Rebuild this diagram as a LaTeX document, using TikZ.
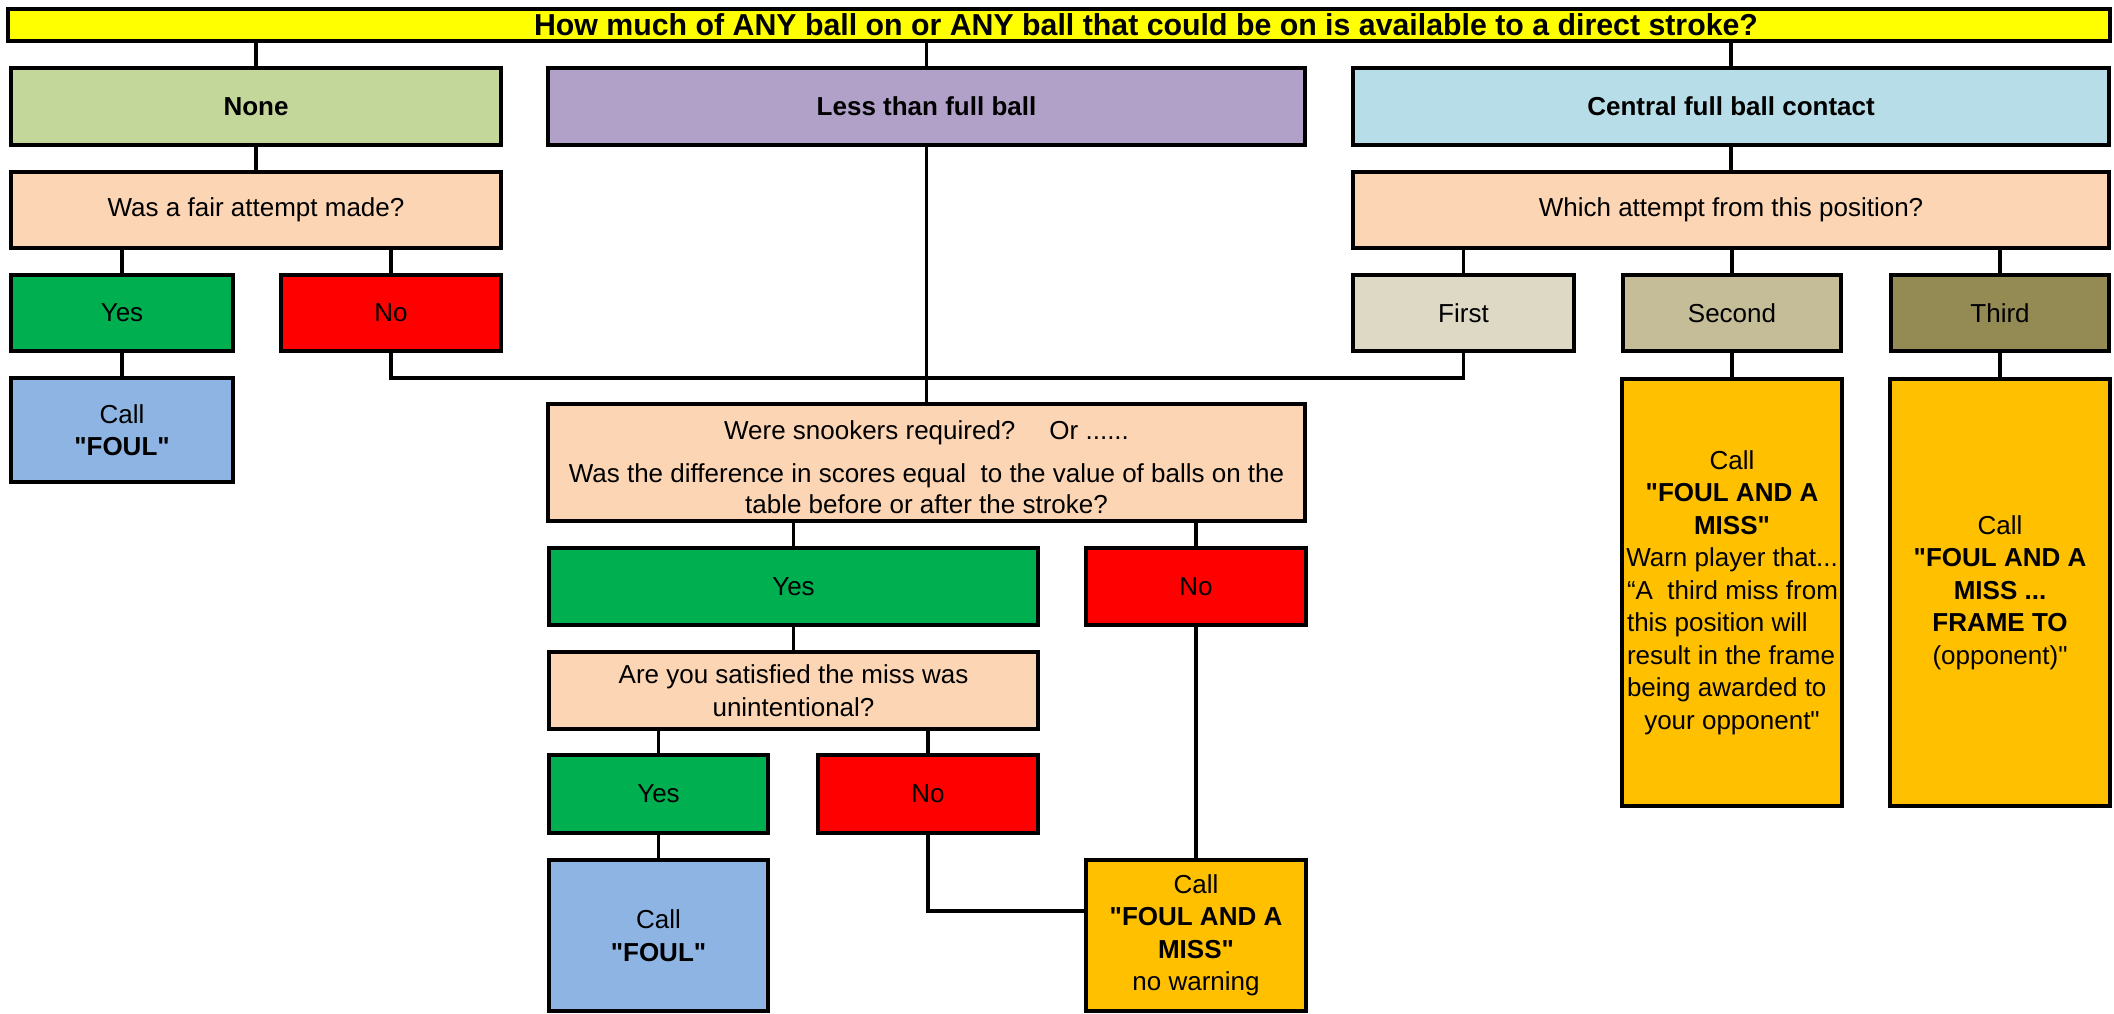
\documentclass[tikz,border=0pt]{standalone}
\usepackage{fontspec}
\setmainfont{Liberation Sans}[Ligatures=TeXOff]
\usetikzlibrary{calc}
\definecolor{cTitle}{HTML}{FFFF00}
\definecolor{cNone}{HTML}{C4D79B}
\definecolor{cLess}{HTML}{B1A0C7}
\definecolor{cCentral}{HTML}{B7DEE8}
\definecolor{cQuest}{HTML}{FCD5B4}
\definecolor{cYes}{HTML}{00B050}
\definecolor{cNo}{HTML}{FF0000}
\definecolor{cFoul}{HTML}{8DB4E2}
\definecolor{cFirst}{HTML}{DDD9C4}
\definecolor{cSecond}{HTML}{C4BD97}
\definecolor{cThird}{HTML}{948A54}
\definecolor{cMiss}{HTML}{FFC000}
\begin{document}
\begin{tikzpicture}[x=1pt,y=-1pt,
  box/.style={draw=black, line width=4pt, rectangle, inner sep=0pt, outer sep=0pt,
    align=center, font=\fontsize{26}{32.5}\selectfont},
  sz/.style 2 args={minimum width=#1pt, minimum height=#2pt},
  conn/.style={draw=black, line width=3.5pt},
  txt/.style={inner sep=0pt, align=center, font=\fontsize{26}{31}\selectfont},
]
\useasboundingbox (0,0) rectangle (2114,1014);
% boxes
\node[box, fill=cTitle, sz={2102}{32}] (title) at (1059,25) {};
\node[font=\fontsize{30.3}{32}\bfseries\selectfont, inner sep=0pt] (titletext) at (1146,25)
  {How much of ANY ball on or ANY ball that could be on is available to a direct stroke?};
\node[box, fill=cNone, sz={490}{77}] (none) at (256,106.5) {\textbf{None}};
\node[box, fill=cLess, sz={757}{77}] (less) at (926.5,106.5) {\textbf{Less than full ball}};
\node[box, fill=cCentral, sz={756}{77}] (central) at (1731,106.5) {\textbf{Central full ball contact}};
\node[box, fill=cQuest, sz={490}{76}] (fair) at (256,210) {Was a fair attempt made?};
\node[box, fill=cQuest, sz={756}{76}] (which) at (1731,210) {Which attempt from this position?};
\node[box, fill=cYes, sz={222}{76}] (yes1) at (122,313) {Yes};
\node[box, fill=cNo, sz={220}{76}] (no1) at (391,313) {No};
\node[box, fill=cFirst, sz={221}{76}] (first) at (1463.5,313) {First};
\node[box, fill=cSecond, sz={218}{76}] (second) at (1732,313) {Second};
\node[box, fill=cThird, sz={218}{76}] (third) at (2000,313) {Third};
\node[box, fill=cFoul, sz={222}{104}] (foul1) at (122,430) {Call\\\textbf{"FOUL"}};
\node[box, fill=cQuest, sz={757}{117}] (snook) at (926.5,462.5) {};
\node[txt] (snooktext) at (926.5,467)
  {Were snookers required?\hspace{34pt}Or ......\\[12pt]
   Was the difference in scores equal\ \ to the value of balls on the\\
   table before or after the stroke?};
\node[box, fill=cYes, sz={489}{77}] (yes2) at (793.5,586.5) {Yes};
\node[box, fill=cNo, sz={220}{77}] (no2) at (1196,586.5) {No};
\node[box, fill=cQuest, sz={489}{77}] (satis) at (793.5,690.5)
  {Are you satisfied the miss was\\unintentional?};
\node[box, fill=cYes, sz={219}{78}] (yes3) at (658.5,794) {Yes};
\node[box, fill=cNo, sz={220}{78}] (no3) at (928,794) {No};
\node[box, fill=cFoul, sz={219}{151}] (foul2) at (658.5,935.5) {Call\\\textbf{"FOUL"}};
\node[box, fill=cMiss, sz={220}{151}] (missnw) at (1196,935.5)
  {Call\\\textbf{"FOUL AND A}\\\textbf{MISS"}\\no warning};
\node[box, fill=cMiss, sz={220}{427}] (miss2) at (1732,592.5)
  {Call\\\textbf{"FOUL AND A}\\\textbf{MISS"}\\Warn player that...\\
   \makebox[210pt][l]{“A\ \ third miss from}\\
   \makebox[210pt][l]{this position will}\\
   \makebox[210pt][l]{result in the frame}\\
   \makebox[210pt][l]{being awarded to}\\
   your opponent"};
\node[box, fill=cMiss, sz={220}{427}] (miss3) at (2000,592.5)
  {Call\\\textbf{"FOUL AND A}\\\textbf{MISS ...}\\\textbf{FRAME TO}\\(opponent)"};
% connectors
\coordinate (join) at (926.5,378);
\draw[conn] (title.south -| none.north) -- (none.north);
\draw[conn] (title.south -| less.north) -- (less.north);
\draw[conn] (title.south -| central.north) -- (central.north);
\draw[conn] (none.south) -- (fair.north);
\draw[conn] (central.south) -- (which.north);
\draw[conn] (fair.south -| yes1.north) -- (yes1.north);
\draw[conn] (fair.south -| no1.north) -- (no1.north);
\draw[conn] (which.south -| first.north) -- (first.north);
\draw[conn] (which.south -| second.north) -- (second.north);
\draw[conn] (which.south -| third.north) -- (third.north);
\draw[conn] (yes1.south) -- (foul1.north);
\draw[conn] (second.south) -- (miss2.north);
\draw[conn] (third.south) -- (miss3.north);
\draw[conn] (no1.south) |- (join) -| (first.south);
\draw[conn] (less.south) -- (snook.north);
\draw[conn] (snook.south -| yes2.north) -- (yes2.north);
\draw[conn] (snook.south -| no2.north) -- (no2.north);
\draw[conn] (yes2.south) -- (satis.north);
\draw[conn] (satis.south -| yes3.north) -- (yes3.north);
\draw[conn] (satis.south -| no3.north) -- (no3.north);
\draw[conn] (yes3.south) -- (foul2.north);
\draw[conn] (no2.south) -- (missnw.north);
\draw[conn] (no3.south) |- ($(missnw.west)+(0,-24.5)$);
\end{tikzpicture}
\end{document}
